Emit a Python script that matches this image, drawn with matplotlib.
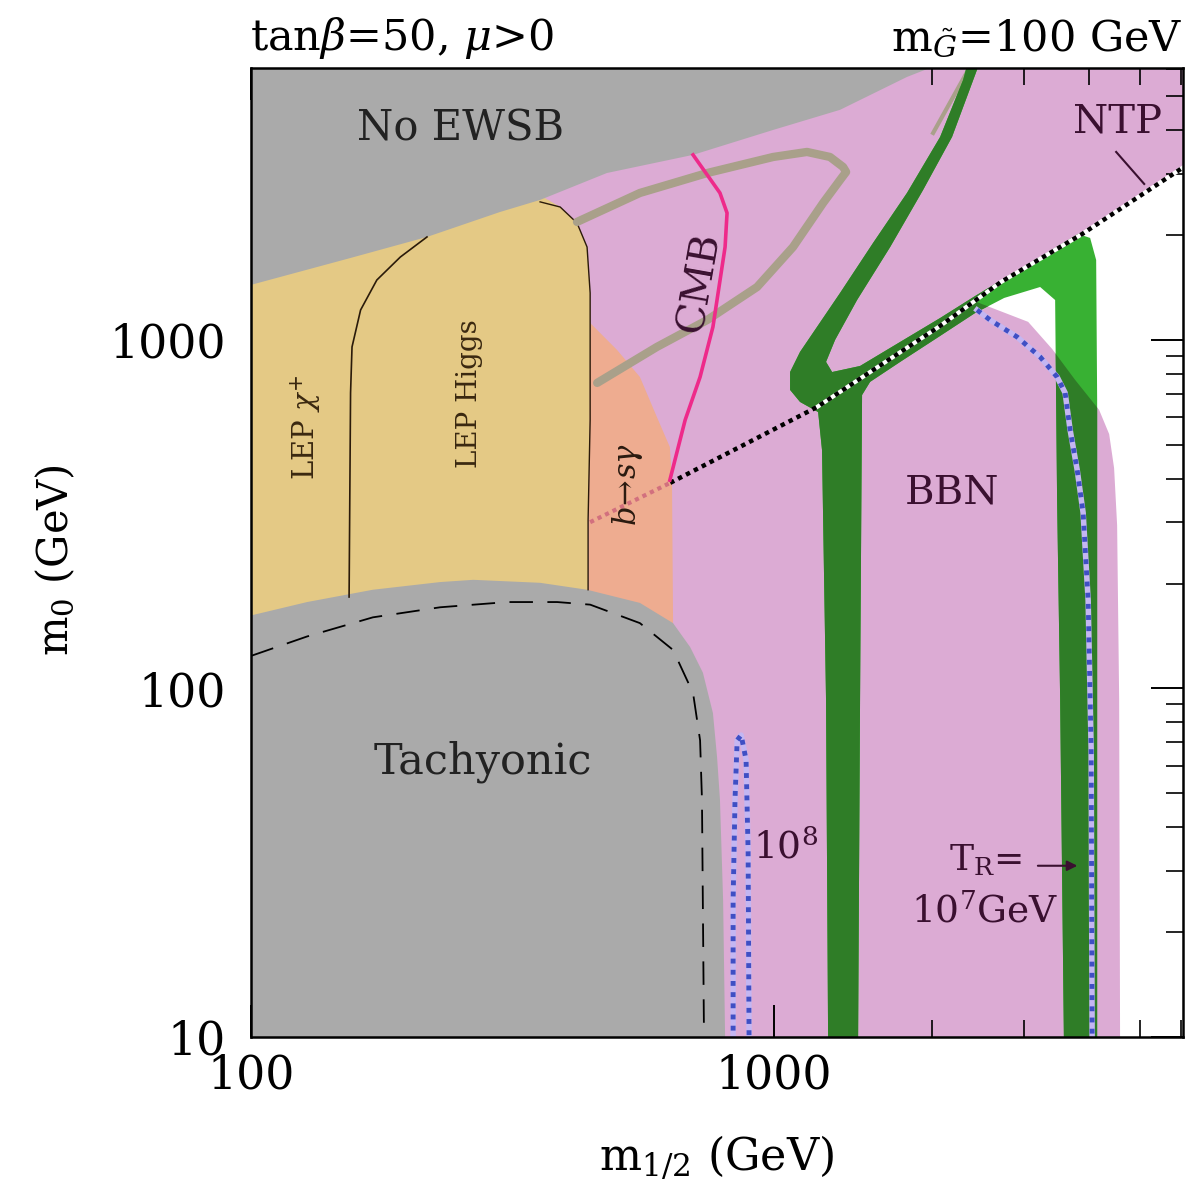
import matplotlib
matplotlib.use('Agg')
import matplotlib.pyplot as plt
from matplotlib.ticker import LogLocator, NullFormatter

plt.rcParams['font.family'] = 'DejaVu Serif'
plt.rcParams['mathtext.fontset'] = 'dejavuserif'

# region boundaries (m_1/2, m_0 in GeV)
pink_x = [100, 4587, 4568, 4527, 4467, 4371, 4182, 3763, 3401, 3060, 2423, 2716, 3882, 6050, 6500, 6500, 100]
pink_y = [9, 9, 92.7, 294, 429, 537, 630, 768, 942, 1127, 1290, 1467, 2014, 3116, 3350, 7000, 7000]

noewsb_x = [100, 155, 217, 299, 357, 479, 700, 996, 1337, 1795, 1986, 2100, 100]
noewsb_y = [1439, 1719, 1975, 2328, 2522, 3013, 3397, 4005, 4574, 5684, 6033, 7000, 7000]

lep_x = [100, 357, 390, 420, 439, 445, 445, 441, 441, 100]
lep_y = [2600, 2600, 2407, 2166, 1848, 1364, 589, 304, 150, 150]
lep_edge_x = [357, 390, 420, 439, 445, 445, 441, 441]
lep_edge_y = [2490, 2407, 2166, 1848, 1364, 589, 304, 192]

higgs_x = [217, 193, 174, 162, 156, 155, 154]
higgs_y = [1975, 1730, 1486, 1219, 955, 705, 183]

bsg_x = [445, 501, 554, 597, 632, 638, 641, 641, 441]
bsg_y = [1119, 936, 783, 601, 493, 396, 157, 140, 140]

tach_x = [100, 128, 171, 230, 266, 357, 439, 554, 641, 691, 731, 764, 778, 788, 799, 806, 806, 100]
tach_y = [162, 177, 192, 202, 205, 201, 192, 176, 154, 131.5, 111, 85, 63.6, 48, 24.7, 10, 9, 9]

dash_x = [100, 128, 171, 230, 309, 385, 445, 554, 641, 700, 722, 728, 735]
dash_y = [124, 141, 160, 171, 177, 177, 174, 154, 129, 97, 71, 48, 9]

loop_x = [420, 554, 745, 996, 1156, 1279, 1355, 1373, 1337, 1241, 1087, 928, 745, 597, 459]
loop_y = [2181, 2641, 3013, 3350, 3463, 3350, 3136, 3034, 2877, 2473, 1848, 1419, 1141, 955, 753]
tan_top_x = [2014, 2400]
tan_top_y = [3926, 6300]

cmb_x = [700, 788, 813, 806, 764, 722, 676, 632]
cmb_y = [3397, 2641, 2314, 1848, 1090, 783, 589, 396]

ntp_x = [633, 1208, 2077, 2716, 3882, 6100]
ntp_y = [389, 642, 1097, 1467, 2014, 3150]
bsg_line_x = [445, 633]
bsg_line_y = [300, 389]

green_x = [1269, 1257, 1235, 1214, 1121, 1073, 1073, 1121, 1337, 1546, 1795, 2077, 2298, 2350,
           2477, 2189, 1927, 1667, 1441, 1308, 1257, 1291, 1460, 1742, 2077, 2423, 2704, 3371,
           3814, 4020, 4128, 4146, 4146, 3584, 3523, 3476, 3446, 3226, 2754, 2423, 2077, 1742,
           1526, 1473, 1460, 1447]
green_y = [9, 92.7, 483, 621, 664, 719, 809, 924, 1364, 1898, 2641, 3824, 5572, 6300,
           6300, 3824, 2694, 1848, 1302, 1000, 865, 809, 842, 987, 1156, 1337, 1477, 1800,
           2014, 1962, 1696, 673, 9, 9, 92.7, 347, 1302, 1419, 1320, 1195, 1027, 865,
           758, 695, 92.7, 9]

tr7_x = [2444, 2588, 2915, 3226, 3476, 3601, 3681, 3797, 3898, 3985, 4038, 4056]
tr7_y = [1219, 1141, 1020, 894, 783, 705, 552, 424, 319, 179, 67, 9]
tr8_x = [835, 835, 842, 850, 865, 884, 892, 896]
tr8_y = [9, 24.7, 48, 71, 73.5, 62.4, 34, 9]

fig = plt.figure(figsize=(12.01, 12.03), dpi=100)
ax = fig.add_axes([251/1201, 1-1037/1203, 932/1201, 969/1203])
ax.set_xscale('log')
ax.set_yscale('log')

pink = ax.fill(pink_x, pink_y, color='#dcabd4', lw=0, zorder=1)[0]
ax.fill(lep_x, lep_y, color='#e4c985', lw=0, zorder=2)
ax.fill(bsg_x, bsg_y, color='#eeac90', lw=0, zorder=2)
ax.fill(noewsb_x, noewsb_y, color='#aaaaaa', lw=0, zorder=3)
ax.fill(tach_x, tach_y, color='#aaaaaa', lw=0, zorder=3)

ax.plot(higgs_x, higgs_y, color='#2a1a0a', lw=1.2, zorder=4)
ax.plot(lep_edge_x, lep_edge_y, color='#2a1a0a', lw=1.0, zorder=4)
ax.plot(dash_x, dash_y, color='black', lw=1.3, dashes=(13, 8), zorder=4)

ax.plot(loop_x, loop_y, color='#a9a08a', lw=6, solid_capstyle='round',
        solid_joinstyle='round', zorder=4)
ax.plot(tan_top_x, tan_top_y, color='#a9a08a', lw=3, zorder=4)

# green band: bright where it lies outside BBN region, dark over it
ax.fill(green_x, green_y, color='#38b133', lw=0, zorder=5)
dark = ax.fill(green_x, green_y, color='#2f7d27', lw=0, zorder=5.1)[0]
dark.set_clip_path(pink)

# reheating temperature contours
ax.plot(tr7_x, tr7_y, color='#c4b6f2', lw=4, zorder=6)
ax.plot(tr7_x, tr7_y, color='#3f4fc4', lw=3.5, linestyle=(0, (1, 1.3)), zorder=6.1)
ax.plot(tr8_x, tr8_y, color='#c4b6f2', lw=4, zorder=6)
ax.plot(tr8_x, tr8_y, color='#3f4fc4', lw=3.5, linestyle=(0, (1, 1.3)), zorder=6.1)

ax.plot(ntp_x[1:], ntp_y[1:], color='white', lw=3, zorder=6.5)
ax.plot(ntp_x, ntp_y, color='black', lw=3.2, linestyle=(0, (1, 1)), zorder=7)
ax.plot(bsg_line_x, bsg_line_y, color='#d2707e', lw=3.0, linestyle=(0, (1, 1)), zorder=7)
ax.plot(cmb_x, cmb_y, color='#ee2a8a', lw=2.6, zorder=7)

# labels
ax.text(251, 4055, 'No EWSB', fontsize=30, ha='center', va='center', color='#222222', zorder=8)
ax.text(278, 61.5, 'Tachyonic', fontsize=31, ha='center', va='center', color='#222222', zorder=8)
ax.text(2189, 364, 'BBN', fontsize=29, ha='center', va='center', color='#3a1030', zorder=8)
ax.text(127, 560, r'LEP $\chi^{+}$', fontsize=21, rotation=90, ha='center', va='center',
        color='#3a2810', zorder=8)
ax.text(262, 700, 'LEP Higgs', fontsize=20, rotation=90, ha='center', va='center',
        color='#3a2810', zorder=8)
ax.text(722, 1467, 'CMB', fontsize=29, rotation=80, ha='center', va='center', color='#3a1030', zorder=8)
ax.text(524, 384, r'$b\!\rightarrow\! s\gamma$', fontsize=22, rotation=90, ha='center', va='center',
        color='#2a1a10', zorder=8)
ax.text(1050, 34.8, r'10$^{8}$', fontsize=27, ha='center', va='center', color='#3a1030', zorder=8)
ax.text(2532, 32.2, r'T$_{\rm R}$=', fontsize=26, ha='center', va='center', color='#3a1030', zorder=8)
ax.text(2532, 22.8, r'10$^{7}$GeV', fontsize=27, ha='center', va='center', color='#3a1030', zorder=8)
ax.annotate('', xy=(3847, 31), xytext=(3155, 31),
            arrowprops=dict(arrowstyle='-|>', color='#3a1030', lw=1.5, mutation_scale=15), zorder=8)
ax.text(4527, 4223, 'NTP', fontsize=29, ha='center', va='center', color='#3a1030', zorder=8)
ax.plot([4508, 5100], [3463, 2803], color='#3a1030', lw=1.5, zorder=8)

ax.set_xlim(100, 6050)
ax.set_ylim(10, 6030)

ax.set_xticks([100, 1000])
ax.set_xticklabels(['100', '1000'])
ax.set_yticks([10, 100, 1000])
ax.set_yticklabels(['10', '100', '1000'])
ax.xaxis.set_minor_locator(LogLocator(base=10, subs=range(2, 10)))
ax.yaxis.set_minor_locator(LogLocator(base=10, subs=range(2, 10)))
ax.xaxis.set_minor_formatter(NullFormatter())
ax.yaxis.set_minor_formatter(NullFormatter())
ax.tick_params(which='both', direction='in', top=True, right=True, labelsize=33)
ax.tick_params(which='major', length=23, width=1.4)
ax.tick_params(which='minor', length=12, width=1.2)
ax.tick_params(axis='x', which='major', pad=12)
ax.tick_params(axis='y', which='major', pad=18)
for s in ax.spines.values():
    s.set_linewidth(1.8)
    s.set_zorder(9)

ax.set_xlabel(r'm$_{1/2}$ (GeV)', fontsize=32)
ax.set_ylabel(r'm$_{0}$ (GeV)', fontsize=30)
ax.xaxis.set_label_coords(0.5, -0.1)
ax.yaxis.set_label_coords(-0.186, 0.492)

fig.text(250/1201, 1-38/1203, r'tan$\beta$=50, $\mu$>0', fontsize=31, ha='left', va='center')
fig.text(1183/1201, 1-38/1203, r'm$_{\tilde{G}}$=100 GeV', fontsize=31, ha='right', va='center')

fig.savefig('out.png', dpi=100)
